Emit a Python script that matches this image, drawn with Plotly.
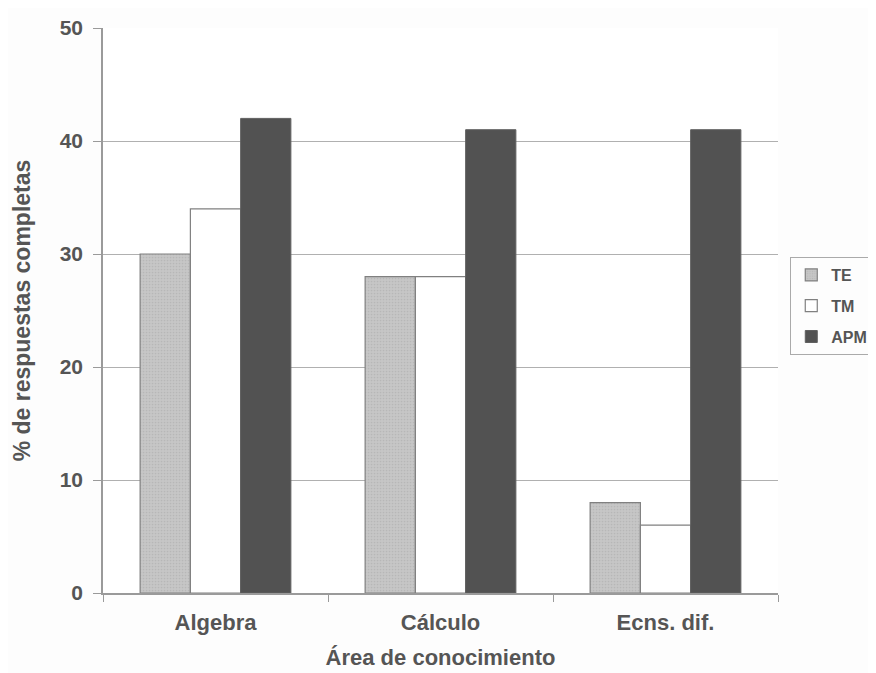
import plotly.graph_objects as go

areas = ["Algebra", "Cálculo", "Ecns. dif."]
te = [30, 28, 8]
tm = [34, 28, 6]
apm = [42, 41, 41]

font_family = "Liberation Sans, Arial, sans-serif"
text_color = "#555555"


def main():
    fig = go.Figure()
    fig.add_trace(
        go.Bar(
            name="<b>TE</b>", x=areas, y=te, legendgroup="te",
            marker=dict(
                color="#c6c6c6",
                line=dict(color="#808080", width=1.2),
                pattern=dict(shape=".", size=3, solidity=0.25,
                             fgcolor="#a8a8a8", fillmode="overlay"),
            ),
        )
    )
    fig.add_trace(
        go.Bar(
            name="<b>TM</b>", x=areas, y=tm, legendgroup="tm",
            marker=dict(color="#ffffff", line=dict(color="#808080", width=1.2)),
        )
    )
    fig.add_trace(
        go.Bar(
            name="<b>APM</b>", x=areas, y=apm, legendgroup="apm",
            marker=dict(color="#525252", line=dict(color="#606060", width=1)),
        )
    )

    # page body adds an 8px offset, margins compensate for it
    fig.update_layout(
        width=876,
        height=673,
        barmode="group",
        bargap=0.33,
        bargroupgap=0,
        paper_bgcolor="#fdfdfd",
        plot_bgcolor="#ffffff",
        margin=dict(l=95, r=106, t=20, b=88),
        font=dict(family=font_family, color=text_color, size=16),
        legend=dict(
            xref="container", yref="container",
            x=0.893, y=0.63, xanchor="left", yanchor="top",
            bordercolor="#aaaaaa", borderwidth=1,
            font=dict(size=16, color=text_color),
            tracegroupgap=7, itemwidth=30,
        ),
        showlegend=True,
    )
    fig.update_xaxes(
        automargin=False,
        showline=True, linecolor="#9a9a9a", linewidth=1.5,
        ticks="outside", tickson="boundaries", ticklen=7, tickcolor="#9a9a9a",
        tickfont=dict(size=22), ticklabelstandoff=9,
        tickprefix="<b>", ticksuffix="</b>",
        title=dict(text="<b>Área de conocimiento</b>", font=dict(size=22), standoff=15),
    )
    fig.update_yaxes(
        automargin=False,
        range=[0, 50], dtick=10,
        showgrid=True, gridcolor="#b0b0b0", gridwidth=1,
        showline=True, linecolor="#9a9a9a", linewidth=1.5,
        ticks="outside", ticklen=8, tickcolor="#9a9a9a",
        tickfont=dict(size=21), ticklabelstandoff=6,
        tickprefix="<b>", ticksuffix="</b>",
        zeroline=False,
        title=dict(text="<b>% de respuestas completas</b>", font=dict(size=23), standoff=23),
    )
    fig.write_html("out.html")


if __name__ == "__main__":
    main()
